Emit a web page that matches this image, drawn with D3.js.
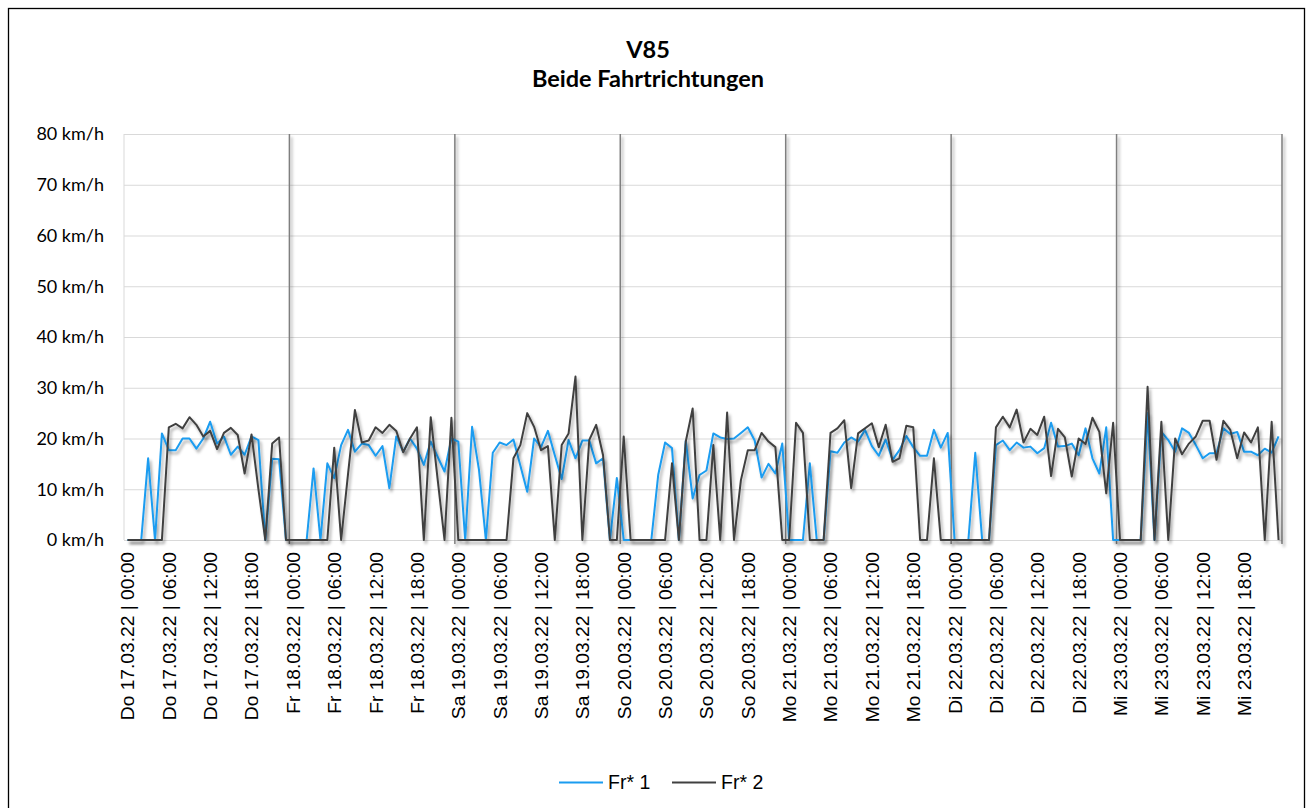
<!DOCTYPE html>
<html>
<head>
<meta charset="utf-8">
<script src="https://cdn.jsdelivr.net/npm/d3@7"></script>
<style>
  body { margin: 0; background: #fff; }
  .title { font-family: Lato, "Open Sans", sans-serif; font-weight: bold; font-size: 23.5px; fill: #000; }
  .yaxis text { font-family: Lato, sans-serif; font-size: 18px; fill: #000; }
  .xaxis text { font-family: "Liberation Sans", Arial, sans-serif; font-size: 19.2px; fill: #000; }
  .legend text { font-family: "Liberation Sans", Arial, sans-serif; font-size: 19.5px; fill: #000; }
</style>
</head>
<body>
<svg id="chart" width="1312" height="808"></svg>
<script>
var dayNames = ["Do 17.03.22", "Fr 18.03.22", "Sa 19.03.22", "So 20.03.22", "Mo 21.03.22", "Di 22.03.22", "Mi 23.03.22"];
var hourNames = ["00:00", "01:00", "02:00", "03:00", "04:00", "05:00", "06:00", "07:00", "08:00", "09:00", "10:00", "11:00",
                 "12:00", "13:00", "14:00", "15:00", "16:00", "17:00", "18:00", "19:00", "20:00", "21:00", "22:00", "23:00"];
var tickHours = [0, 6, 12, 18];
var yTicks = [0, 10, 20, 30, 40, 50, 60, 70, 80];
var seriesNames = ["Fr* 1", "Fr* 2"];

// Fr* 1, hourly, one row per day
var fr1 = [
  0, 0, 0, 16.1, 0, 21, 17.7, 17.7, 20, 20, 18, 20, 23.3, 19, 20.4, 16.8, 18.4, 16.8, 20.4, 19.7, 0, 16, 15.9, 0,
  0, 0, 0, 14.1, 0, 15.1, 12.2, 18.7, 21.7, 17.4, 19, 18.7, 16.6, 18.5, 10.2, 20.4, 17.4, 20, 18, 14.8, 19.4, 16.4, 13.5, 20,
  19.4, 0, 22.3, 13.8, 0, 17.2, 19.2, 18.7, 19.8, 14.7, 9.5, 20, 18.3, 21.5, 16.7, 12, 19.7, 16.1, 19.6, 19.6, 15.1, 16.1, 0, 12.2,
  0, 0, 0, 0, 0, 12.8, 19.2, 18.1, 0, 19.6, 8.2, 12.8, 13.7, 21, 20.2, 19.9, 20, 21.1, 22.2, 19.6, 12.3, 15, 13.1, 19,
  0, 0, 0, 15.1, 0, 0, 17.5, 17.2, 19.2, 20.2, 19.4, 21.7, 18.5, 16.6, 19.8, 15.8, 17.7, 20.5, 18.3, 16.6, 16.6, 21.7, 18.2, 21.1,
  0, 0, 0, 17.2, 0, 0, 18.7, 19.6, 17.7, 19.2, 18.2, 18.4, 17.1, 18.1, 23.1, 18.4, 18.5, 19, 16.7, 22, 16.1, 13.1, 22.2, 0,
  0, 0, 0, 0, 25, 0, 21.3, 19.7, 17.4, 22, 21.1, 18.7, 16.1, 17.1, 17.1, 22, 20.9, 21.3, 17.4, 17.4, 16.7, 18, 17.2, 20.4
];

// Fr* 2
var fr2 = [
  0, 0, 0, 0, 0, 0, 22.2, 22.9, 22, 24.2, 22.7, 20.4, 21.5, 17.9, 21.1, 22.1, 20.7, 13.1, 20.8, 10, 0, 19, 20.2, 0,
  0, 0, 0, 0, 0, 0, 18.2, 0, 13, 25.6, 19.2, 19.6, 22.2, 21.1, 22.7, 21.5, 17.3, 20, 22.2, 0, 24.2, 12, 0, 24.1,
  0, 0, 0, 0, 0, 0, 0, 0, 16.1, 18.7, 25, 22.3, 17.7, 18.5, 0, 18.7, 21, 32.2, 0, 19.7, 22.7, 16.7, 0, 0,
  20.4, 0, 0, 0, 0, 0, 0, 15.1, 0, 19.4, 25.9, 0, 0, 18.7, 0, 25.1, 0, 11.8, 17.7, 17.7, 21.1, 19.4, 18.3, 0,
  0, 23.1, 21.1, 0, 0, 0, 21.1, 22, 23.6, 10.2, 21, 22, 23, 18.3, 22.7, 15.4, 16.1, 22.5, 22.2, 0, 0, 16.1, 0, 0,
  0, 0, 0, 0, 0, 0, 22.2, 24.3, 22.2, 25.7, 19.2, 21.9, 20.7, 24.3, 12.6, 21.9, 20.2, 12.5, 20, 18.9, 24.1, 21.3, 9.2, 23.1,
  0, 0, 0, 0, 30.2, 0, 23.3, 0, 20, 16.9, 19, 20.4, 23.5, 23.5, 15.8, 23.5, 21.7, 16.1, 21.2, 19.2, 22.2, 0, 23.3, 0
];

var colors = ["#1a9cf0", "#404040"];

var plotLeft = 124, plotRight = 1282, plotTop = 134, plotBottom = 540;

var labels = [];
dayNames.forEach(function(d) {
  hourNames.forEach(function(h) { labels.push(d + " | " + h); });
});

var svg = d3.select("#chart");

// Excel-like soft shadow; user space so zero-width lines keep it too
var defs = svg.append("defs");
var shadow = defs.append("filter").attr("id", "shadow")
  .attr("filterUnits", "userSpaceOnUse")
  .attr("x", 0).attr("y", 0).attr("width", 1312).attr("height", 808);
shadow.append("feDropShadow")
  .attr("dx", 2).attr("dy", 3).attr("stdDeviation", 1.8)
  .attr("flood-color", "#000").attr("flood-opacity", 0.35);

// outer frame
svg.append("rect")
  .attr("x", 8.5).attr("y", 8.5)
  .attr("width", 1296).attr("height", 812)
  .attr("fill", "#fff").attr("stroke", "#000").attr("stroke-width", 1.3);

var x = d3.scaleBand()
  .domain(d3.range(labels.length))
  .range([plotLeft, plotRight]);

var y = d3.scaleLinear()
  .domain([0, 80])
  .range([plotBottom, plotTop]);

function cx(i) { return x(i) + x.bandwidth() / 2; }

// horizontal gridlines + y labels
var yAxis = svg.append("g")
  .attr("class", "yaxis")
  .attr("transform", "translate(" + plotLeft + ",0)")
  .call(d3.axisLeft(y)
    .tickValues(yTicks)
    .tickSize(-(plotRight - plotLeft))
    .tickPadding(20)
    .tickFormat(function(d) { return d + " km/h"; }));
yAxis.select(".domain").remove();
yAxis.selectAll(".tick line").attr("stroke", "#d9d9d9").attr("stroke-width", 1);

// left border of plot
svg.append("line")
  .attr("x1", plotLeft).attr("x2", plotLeft)
  .attr("y1", plotTop).attr("y2", plotBottom)
  .attr("stroke", "#d9d9d9");

// day separators
svg.append("g")
  .selectAll("line")
  .data(d3.range(1, dayNames.length + 1))
  .enter()
  .append("line")
  .attr("x1", function(d) { return d < dayNames.length ? x(d * 24) : plotRight; })
  .attr("x2", function(d) { return d < dayNames.length ? x(d * 24) : plotRight; })
  .attr("y1", plotTop)
  .attr("y2", plotBottom + 4)
  .attr("stroke", "#7f7f7f")
  .attr("stroke-width", 1.5)
  .attr("filter", "url(#shadow)");

// x labels
var tickIdx = [];
dayNames.forEach(function(d, di) {
  tickHours.forEach(function(h) { tickIdx.push(di * 24 + h); });
});

var xAxis = svg.append("g")
  .attr("class", "xaxis")
  .attr("transform", "translate(0," + plotBottom + ")")
  .call(d3.axisBottom(x)
    .tickValues(tickIdx)
    .tickSize(0)
    .tickFormat(function(i) { return labels[i]; }));
xAxis.select(".domain").remove();
xAxis.selectAll("text")
  .attr("text-anchor", "end")
  .attr("transform", "rotate(-90)")
  .attr("x", -12)
  .attr("y", 0)
  .attr("dy", "0.36em");

// lines
var line = d3.line()
  .x(function(d, i) { return cx(i); })
  .y(function(d) { return y(d); });

[fr1, fr2].forEach(function(s, k) {
  svg.append("path")
    .datum(s)
    .attr("d", line)
    .attr("fill", "none")
    .attr("stroke", colors[k])
    .attr("stroke-width", 2)
    .attr("stroke-linejoin", "round")
    .attr("filter", "url(#shadow)");
});

// title
svg.append("text").attr("class", "title")
  .attr("x", 648).attr("y", 58)
  .attr("text-anchor", "middle")
  .text("V85");
svg.append("text").attr("class", "title")
  .attr("x", 648).attr("y", 87)
  .attr("text-anchor", "middle")
  .text("Beide Fahrtrichtungen");

// legend
var legend = svg.append("g").attr("class", "legend");
var legX = [559, 672];
seriesNames.forEach(function(n, k) {
  legend.append("line")
    .attr("x1", legX[k]).attr("x2", legX[k] + 44)
    .attr("y1", 782.5).attr("y2", 782.5)
    .attr("stroke", colors[k])
    .attr("stroke-width", 2);
  legend.append("text")
    .attr("x", legX[k] + 49)
    .attr("y", 788.5)
    .text(n);
});
</script>
</body>
</html>
